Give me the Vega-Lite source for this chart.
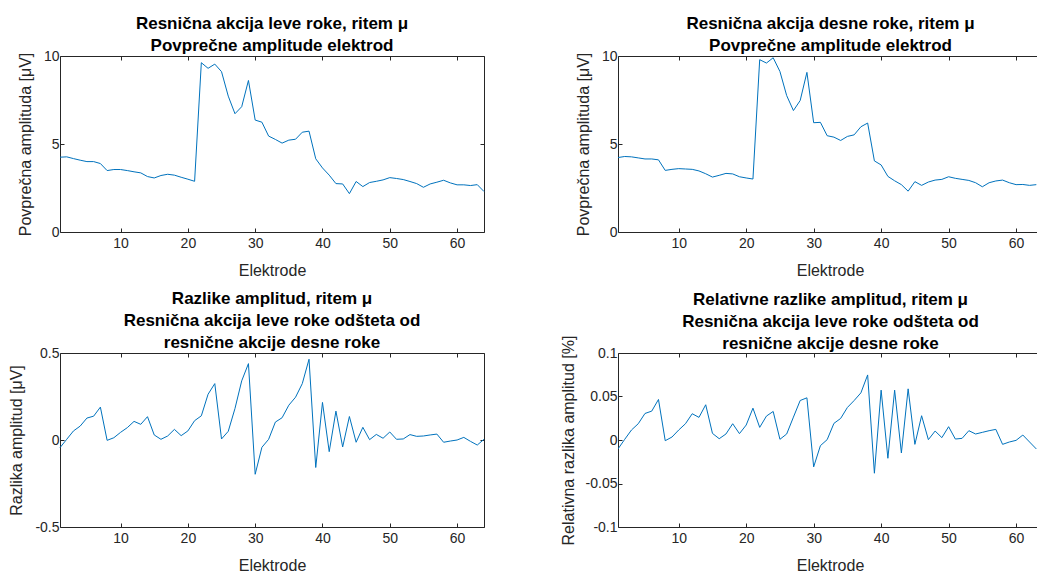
{
  "$schema": "https://vega.github.io/schema/vega-lite/v6.json",
  "autosize": {"type": "none"},
  "padding": {"left": 60, "top": 56, "right": 977, "bottom": 516},
  "background": "white",
  "config": {
    "view": {"stroke": null},
    "axis": {
      "grid": false,
      "domainColor": "#262626", "tickColor": "#262626", "labelColor": "#262626", "titleColor": "#262626",
      "labelFont": "Liberation Sans", "titleFont": "Liberation Sans",
      "labelFontSize": 14, "titleFontSize": 16, "titleFontWeight": "normal",
      "tickSize": -4, "domainWidth": 1, "tickWidth": 1
    },
    "axisX": {"labelPadding": 8},
    "axisY": {"labelPadding": 5},
    "title": {"font": "Liberation Sans", "fontSize": 17, "fontWeight": "bold", "color": "#000000", "lineHeight": 22, "anchor": "middle", "offset": -6}
  },
  "datasets": {
    "tl": [
      {"e":1,"v":4.25},{"e":2,"v":4.27},{"e":3,"v":4.17},{"e":4,"v":4.08},{"e":5,"v":4.0},{"e":6,"v":4.0},{"e":7,"v":3.89},{"e":8,"v":3.49},
      {"e":9,"v":3.55},{"e":10,"v":3.55},{"e":11,"v":3.49},{"e":12,"v":3.42},{"e":13,"v":3.36},{"e":14,"v":3.15},{"e":15,"v":3.07},{"e":16,"v":3.21},
      {"e":17,"v":3.28},{"e":18,"v":3.23},{"e":19,"v":3.11},{"e":20,"v":3.0},{"e":21,"v":2.88},{"e":22,"v":9.62},{"e":23,"v":9.30},{"e":24,"v":9.54},
      {"e":25,"v":9.11},{"e":26,"v":7.72},{"e":27,"v":6.72},{"e":28,"v":7.12},{"e":29,"v":8.61},{"e":30,"v":6.36},{"e":31,"v":6.24},{"e":32,"v":5.45},
      {"e":33,"v":5.26},{"e":34,"v":5.05},{"e":35,"v":5.22},{"e":36,"v":5.27},{"e":37,"v":5.67},{"e":38,"v":5.73},{"e":39,"v":4.16},{"e":40,"v":3.64},
      {"e":41,"v":3.23},{"e":42,"v":2.75},{"e":43,"v":2.73},{"e":44,"v":2.18},{"e":45,"v":2.87},{"e":46,"v":2.58},{"e":47,"v":2.81},{"e":48,"v":2.88},
      {"e":49,"v":2.96},{"e":50,"v":3.09},{"e":51,"v":3.04},{"e":52,"v":2.98},{"e":53,"v":2.87},{"e":54,"v":2.75},{"e":55,"v":2.54},{"e":56,"v":2.73},
      {"e":57,"v":2.83},{"e":58,"v":2.94},{"e":59,"v":2.79},{"e":60,"v":2.68},{"e":61,"v":2.68},{"e":62,"v":2.64},{"e":63,"v":2.69},{"e":64,"v":2.30}
    ],
    "tr": [
      {"e":1,"v":4.23},{"e":2,"v":4.29},{"e":3,"v":4.27},{"e":4,"v":4.21},{"e":5,"v":4.15},{"e":6,"v":4.15},{"e":7,"v":4.10},{"e":8,"v":3.50},
      {"e":9,"v":3.56},{"e":10,"v":3.60},{"e":11,"v":3.58},{"e":12,"v":3.56},{"e":13,"v":3.47},{"e":14,"v":3.31},{"e":15,"v":3.12},{"e":16,"v":3.22},
      {"e":17,"v":3.33},{"e":18,"v":3.30},{"e":19,"v":3.14},{"e":20,"v":3.07},{"e":21,"v":3.01},{"e":22,"v":9.79},{"e":23,"v":9.60},{"e":24,"v":9.90},
      {"e":25,"v":9.12},{"e":26,"v":7.75},{"e":27,"v":6.90},{"e":28,"v":7.47},{"e":29,"v":9.07},{"e":30,"v":6.21},{"e":31,"v":6.23},{"e":32,"v":5.47},
      {"e":33,"v":5.39},{"e":34,"v":5.20},{"e":35,"v":5.43},{"e":36,"v":5.52},{"e":37,"v":5.98},{"e":38,"v":6.19},{"e":39,"v":4.04},{"e":40,"v":3.81},
      {"e":41,"v":3.16},{"e":42,"v":2.91},{"e":43,"v":2.69},{"e":44,"v":2.32},{"e":45,"v":2.86},{"e":46,"v":2.65},{"e":47,"v":2.84},{"e":48,"v":2.95},
      {"e":49,"v":2.99},{"e":50,"v":3.14},{"e":51,"v":3.05},{"e":52,"v":2.99},{"e":53,"v":2.93},{"e":54,"v":2.80},{"e":55,"v":2.57},{"e":56,"v":2.80},
      {"e":57,"v":2.90},{"e":58,"v":2.95},{"e":59,"v":2.80},{"e":60,"v":2.69},{"e":61,"v":2.70},{"e":62,"v":2.65},{"e":63,"v":2.69}
    ],
    "bl": [
      {"e":1,"v":-0.044},{"e":2,"v":0.004},{"e":3,"v":0.052},{"e":4,"v":0.080},{"e":5,"v":0.126},{"e":6,"v":0.137},{"e":7,"v":0.189},{"e":8,"v":-0.002},
      {"e":9,"v":0.013},{"e":10,"v":0.044},{"e":11,"v":0.071},{"e":12,"v":0.107},{"e":13,"v":0.090},{"e":14,"v":0.134},{"e":15,"v":0.029},{"e":16,"v":0.004},
      {"e":17,"v":0.023},{"e":18,"v":0.061},{"e":19,"v":0.025},{"e":20,"v":0.052},{"e":21,"v":0.111},{"e":22,"v":0.139},{"e":23,"v":0.263},{"e":24,"v":0.324},
      {"e":25,"v":0.006},{"e":26,"v":0.050},{"e":27,"v":0.181},{"e":28,"v":0.340},{"e":29,"v":0.439},{"e":30,"v":-0.197},{"e":31,"v":-0.042},{"e":32,"v":0.004},
      {"e":33,"v":0.103},{"e":34,"v":0.128},{"e":35,"v":0.200},{"e":36,"v":0.246},{"e":37,"v":0.324},{"e":38,"v":0.464},{"e":39,"v":-0.158},{"e":40,"v":0.216},
      {"e":41,"v":-0.067},{"e":42,"v":0.166},{"e":43,"v":-0.040},{"e":44,"v":0.135},{"e":45,"v":-0.013},{"e":46,"v":0.073},{"e":47,"v":0.002},{"e":48,"v":0.032},
      {"e":49,"v":0.010},{"e":50,"v":0.046},{"e":51,"v":0.004},{"e":52,"v":0.006},{"e":53,"v":0.031},{"e":54,"v":0.021},{"e":55,"v":0.023},{"e":56,"v":0.029},
      {"e":57,"v":0.034},{"e":58,"v":-0.013},{"e":59,"v":-0.006},{"e":60,"v":0.0},{"e":61,"v":0.015},{"e":62,"v":-0.008},{"e":63,"v":-0.029},{"e":64,"v":0.004}
    ],
    "br": [
      {"e":1,"v":-0.0103},{"e":2,"v":0.0008},{"e":3,"v":0.0115},{"e":4,"v":0.0187},{"e":5,"v":0.0305},{"e":6,"v":0.0332},{"e":7,"v":0.0466},{"e":8,"v":-0.0008},
      {"e":9,"v":0.0034},{"e":10,"v":0.0115},{"e":11,"v":0.0187},{"e":12,"v":0.0302},{"e":13,"v":0.0260},{"e":14,"v":0.0405},{"e":15,"v":0.0076},{"e":16,"v":0.0015},
      {"e":17,"v":0.0069},{"e":18,"v":0.0187},{"e":19,"v":0.0073},{"e":20,"v":0.0172},{"e":21,"v":0.0366},{"e":22,"v":0.0145},{"e":23,"v":0.0275},{"e":24,"v":0.0328},
      {"e":25,"v":0.0008},{"e":26,"v":0.0069},{"e":27,"v":0.0263},{"e":28,"v":0.0454},{"e":29,"v":0.0485},{"e":30,"v":-0.0309},{"e":31,"v":-0.0065},{"e":32,"v":0.0004},
      {"e":33,"v":0.0191},{"e":34,"v":0.0248},{"e":35,"v":0.0374},{"e":36,"v":0.0454},{"e":37,"v":0.0542},{"e":38,"v":0.0748},{"e":39,"v":-0.0382},{"e":40,"v":0.0573},
      {"e":41,"v":-0.0210},{"e":42,"v":0.0573},{"e":43,"v":-0.0149},{"e":44,"v":0.0588},{"e":45,"v":-0.0050},{"e":46,"v":0.0279},{"e":47,"v":0.0004},{"e":48,"v":0.0103},
      {"e":49,"v":0.0027},{"e":50,"v":0.0153},{"e":51,"v":0.0011},{"e":52,"v":0.0019},{"e":53,"v":0.0107},{"e":54,"v":0.0069},{"e":55,"v":0.0088},{"e":56,"v":0.0107},
      {"e":57,"v":0.0122},{"e":58,"v":-0.0050},{"e":59,"v":-0.0023},{"e":60,"v":-0.0004},{"e":61,"v":0.0057},{"e":62,"v":-0.0023},{"e":63,"v":-0.0103}
    ]
  },
  "concat": [
    {
      "width": 424, "height": 176,
      "title": {"text": ["Resnična akcija leve roke, ritem μ", "Povprečne amplitude elektrod"]},
      "data": {"name": "tl"},
      "layer": [
        {"mark": {"type": "line", "color": "#0072BD", "strokeWidth": 1},
         "encoding": {
           "x": {"field": "e", "type": "quantitative", "scale": {"domain": [1, 64], "nice": false, "zero": false},
                 "axis": {"values": [10,20,30,40,50,60], "title": "Elektrode", "titleX": 212, "titleY": 38, "titleBaseline": "middle"}},
           "y": {"field": "v", "type": "quantitative", "scale": {"domain": [0, 10], "nice": false, "zero": false},
                 "axis": {"values": [0,5,10], "title": "Povprečna amplituda [μV]", "titleX": -35, "titleY": 88, "titleBaseline": "middle", "titleAngle": -90, "titleAlign": "center"}}
         }},
        {"mark": {"type": "line", "strokeOpacity": 0},
         "encoding": {
           "x": {"field": "e", "type": "quantitative", "axis": {"orient": "top", "values": [10,20,30,40,50,60], "labels": false, "title": null}},
           "y": {"field": "v", "type": "quantitative", "axis": {"orient": "right", "values": [0,5,10], "labels": false, "title": null}}
         }}
      ],
      "resolve": {"axis": {"x": "independent", "y": "independent"}}
    },
    {
      "width": 419, "height": 176,
      "title": {"text": ["Resnična akcija desne roke, ritem μ", "Povprečne amplitude elektrod"], "dx": 3},
      "data": {"name": "tr"},
      "layer": [
        {"mark": {"type": "line", "color": "#0072BD", "strokeWidth": 1, "clip": true},
         "encoding": {
           "x": {"field": "e", "type": "quantitative", "scale": {"domain": [1, 63.1], "nice": false, "zero": false},
                 "axis": {"values": [10,20,30,40,50,60], "title": "Elektrode", "titleX": 212, "titleY": 38, "titleBaseline": "middle"}},
           "y": {"field": "v", "type": "quantitative", "scale": {"domain": [0, 10], "nice": false, "zero": false},
                 "axis": {"values": [0,5,10], "title": "Povprečna amplituda [μV]", "titleX": -35, "titleY": 88, "titleBaseline": "middle", "titleAngle": -90, "titleAlign": "center"}}
         }},
        {"mark": {"type": "line", "strokeOpacity": 0},
         "encoding": {
           "x": {"field": "e", "type": "quantitative", "axis": {"orient": "top", "values": [10,20,30,40,50,60], "labels": false, "title": null}}
         }}
      ],
      "resolve": {"axis": {"x": "independent", "y": "independent"}}
    },
    {
      "width": 424, "height": 174,
      "title": {"text": ["Razlike amplitud, ritem μ", "Resnična akcija leve roke odšteta od", "resnične akcije desne roke"]},
      "data": {"name": "bl"},
      "layer": [
        {"mark": {"type": "line", "color": "#0072BD", "strokeWidth": 1},
         "encoding": {
           "x": {"field": "e", "type": "quantitative", "scale": {"domain": [1, 64], "nice": false, "zero": false},
                 "axis": {"values": [10,20,30,40,50,60], "title": "Elektrode", "titleX": 212, "titleY": 38, "titleBaseline": "middle"}},
           "y": {"field": "v", "type": "quantitative", "scale": {"domain": [-0.5, 0.5], "nice": false, "zero": false},
                 "axis": {"values": [-0.5,0,0.5], "labelExpr": "toString(datum.value)", "title": "Razlika amplitud [μV]", "titleX": -44, "titleY": 87, "titleBaseline": "middle", "titleAngle": -90, "titleAlign": "center"}}
         }},
        {"mark": {"type": "line", "strokeOpacity": 0},
         "encoding": {
           "x": {"field": "e", "type": "quantitative", "axis": {"orient": "top", "values": [10,20,30,40,50,60], "labels": false, "title": null}},
           "y": {"field": "v", "type": "quantitative", "axis": {"orient": "right", "values": [-0.5,0,0.5], "labels": false, "title": null}}
         }}
      ],
      "resolve": {"axis": {"x": "independent", "y": "independent"}}
    },
    {
      "width": 419, "height": 174,
      "title": {"text": ["Relativne razlike amplitud, ritem μ", "Resnična akcija leve roke odšteta od", "resnične akcije desne roke"], "dx": 3, "dy": 12},
      "data": {"name": "br"},
      "layer": [
        {"mark": {"type": "line", "color": "#0072BD", "strokeWidth": 1, "clip": true},
         "encoding": {
           "x": {"field": "e", "type": "quantitative", "scale": {"domain": [1, 63.1], "nice": false, "zero": false},
                 "axis": {"values": [10,20,30,40,50,60], "title": "Elektrode", "titleX": 212, "titleY": 38, "titleBaseline": "middle"}},
           "y": {"field": "v", "type": "quantitative", "scale": {"domain": [-0.1, 0.1], "nice": false, "zero": false},
                 "axis": {"values": [-0.1,-0.05,0,0.05,0.1], "labelExpr": "toString(datum.value)", "title": "Relativna razlika amplitud [%]", "titleX": -50, "titleY": 87, "titleBaseline": "middle", "titleAngle": -90, "titleAlign": "center"}}
         }},
        {"mark": {"type": "line", "strokeOpacity": 0},
         "encoding": {
           "x": {"field": "e", "type": "quantitative", "axis": {"orient": "top", "values": [10,20,30,40,50,60], "labels": false, "title": null}}
         }}
      ],
      "resolve": {"axis": {"x": "independent", "y": "independent"}}
    }
  ],
  "columns": 2,
  "spacing": {"row": 121, "column": 134},
  "bounds": "flush"
}
